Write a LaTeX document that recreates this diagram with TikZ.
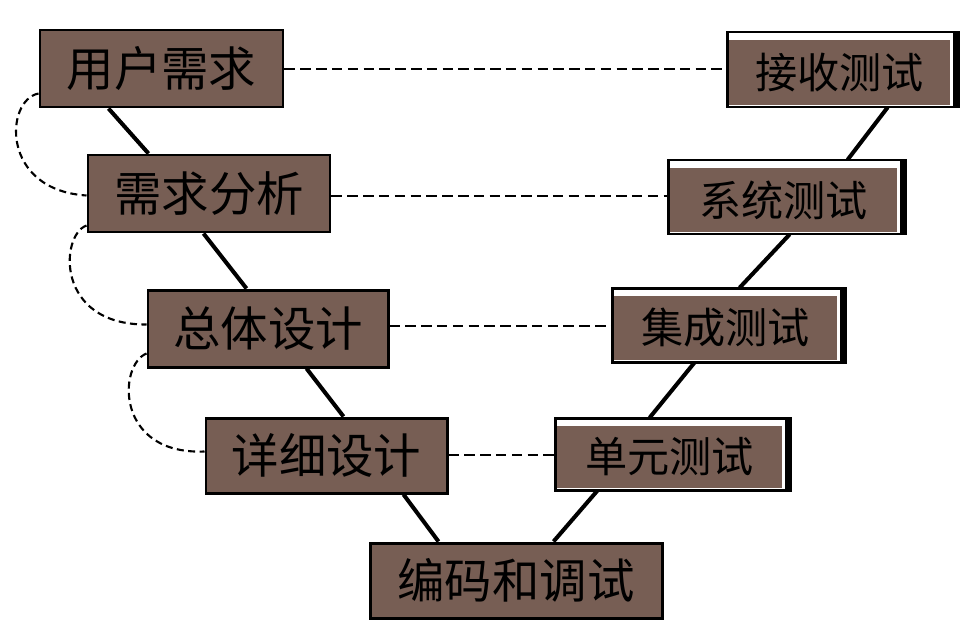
\documentclass[tikz,border=0pt]{standalone}
\usepackage{fontspec}
\newfontfamily\cjk{Noto Sans CJK SC}
\usetikzlibrary{calc}
\definecolor{boxbrown}{HTML}{775E54}
\begin{document}
\begin{tikzpicture}[x=0.02cm,y=-0.02cm,
  lbox/.style={draw=black,line width=1.7pt,fill=boxbrown,inner sep=0pt,font=\cjk\fontsize{27}{30}\selectfont},
  rbox/.style={fill=boxbrown,inner sep=0pt,font=\cjk\fontsize{24}{28}\selectfont},
  frame/.style={draw=black,line width=1.7pt,fill=white},
  vline/.style={line width=2.3pt},
  hdash/.style={line width=1.2pt,dash pattern=on 6pt off 3pt},
  arcd/.style={line width=1.2pt,dash pattern=on 4pt off 2.5pt}]
\useasboundingbox (0,0) rectangle (979,636);
% left boxes
\node[lbox,minimum width=243*0.02cm,minimum height=77*0.02cm] (A) at (161.5,68.5) {用户需求};
\node[lbox,minimum width=242*0.02cm,minimum height=77*0.02cm] (B) at (209,193.5) {需求分析};
\node[lbox,minimum width=240*0.02cm,minimum height=77*0.02cm] (C) at (268,328.5) {总体设计};
\node[lbox,minimum width=241*0.02cm,minimum height=75*0.02cm] (D) at (326.5,455.5) {详细设计};
\node[lbox,minimum width=292*0.02cm,minimum height=75*0.02cm] (E) at (516,580.5) {编码和调试};
% right frames
\draw[frame] (727,32) rectangle (958,107);
\draw[frame] (668,160) rectangle (905,234);
\draw[frame] (612,288) rectangle (845,362);
\draw[frame] (555,418) rectangle (790,490);
\draw[line width=3pt] (956,32)--(956,107);
\draw[line width=3pt] (903,160)--(903,234);
\draw[line width=3pt] (843,288)--(843,362);
\draw[line width=3pt] (788,418)--(788,490);
% right fills
\node[rbox,minimum width=221*0.02cm,minimum height=65*0.02cm] (F) at (839.5,72.5) {接收测试};
\node[rbox,minimum width=227*0.02cm,minimum height=64*0.02cm] (G) at (783.5,200) {系统测试};
\node[rbox,minimum width=223*0.02cm,minimum height=64*0.02cm] (H) at (725.5,328) {集成测试};
\node[rbox,minimum width=225*0.02cm,minimum height=62*0.02cm] (I) at (669.5,457) {单元测试};
% V lines
\draw[vline] ($(A.south west)+(70,0)$) -- ($(B.north west)+(62,0)$);
\draw[vline] ($(B.south west)+(117,0)$) -- ($(C.north west)+(100,0)$);
\draw[vline] ($(C.south west)+(160,0)$) -- ($(D.north west)+(139,0)$);
\draw[vline] ($(D.south west)+(199,0)$) -- ($(E.north west)+(70,0)$);
\draw[vline] ($(E.north west)+(185,0)$) -- ($(I.south west)+(41,2)$);
\draw[vline] ($(I.north west)+(93,-8)$) -- ($(H.south west)+(81,2)$);
\draw[vline] ($(H.north west)+(126,-8)$) -- ($(G.south west)+(120,2)$);
\draw[vline] ($(G.north west)+(178,-8)$) -- ($(F.south west)+(159,2)$);
% dashed horizontals
\draw[hdash] (A.east |- 0,69) -- (727,69);
\draw[hdash] (B.east |- 0,196) -- (668,196);
\draw[hdash] (C.east |- 0,326) -- (612,326);
\draw[hdash] (D.east |- 0,455) -- (555,455);
% arcs
\draw[arcd] ($(A.south west)+(0,-15)$) .. controls (5,100) and (0,190) .. ($(B.west)+(0,2)$);
\draw[arcd] ($(B.south west)+(0,-8)$) .. controls (60,235) and (55,325) .. ($(C.west)+(0,-4)$);
\draw[arcd] ($(C.south west)+(0,-15)$) .. controls (118,365) and (115,455) .. ($(D.west)+(0,-4)$);
\end{tikzpicture}
\end{document}
